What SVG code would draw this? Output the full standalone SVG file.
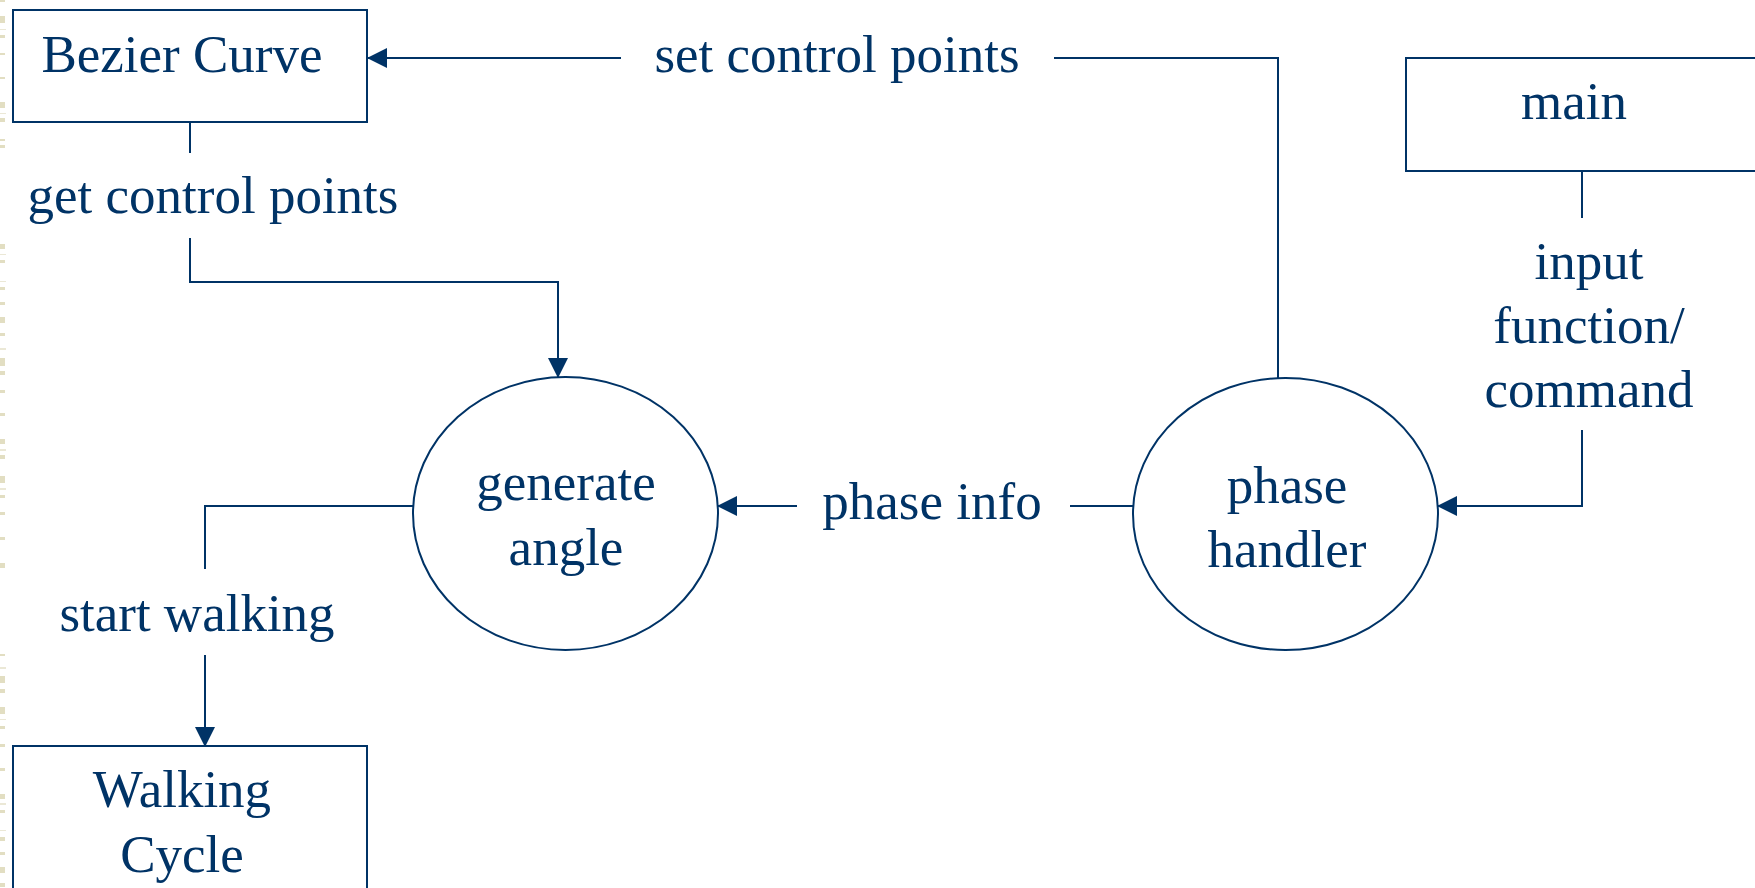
<svg xmlns="http://www.w3.org/2000/svg" width="1755" height="888" viewBox="0 0 1755 888">
  <style>
    .shape { fill: #ffffff; stroke: #003366; stroke-width: 2; }
    .wire { fill: none; stroke: #003366; stroke-width: 2; }
    .label { font-family: "Liberation Serif", "Times New Roman", serif; font-size: 53px; fill: #003366; text-anchor: middle; }
    .tick { fill: #e2dec2; }
    .tick-thin { fill: #ebe8d6; }
  </style>
  <defs>
    <marker id="arrow" viewBox="0 0 20 20" refX="19" refY="10" markerWidth="20" markerHeight="20" markerUnits="userSpaceOnUse" orient="auto">
      <path d="M0,0 L20,10 L0,20 Z" fill="#003366"/>
    </marker>
  </defs>

  <rect x="0" y="0" width="1755" height="888" fill="#ffffff"/>

  <!-- decorative tick strip along the left margin -->
  <g id="margin-strip">
    <rect class="tick" x="0" y="0" width="5" height="2"/>
    <rect class="tick" x="0" y="16" width="5" height="7"/>
    <rect class="tick-thin" x="0" y="29" width="6" height="1"/>
    <rect class="tick" x="0" y="35" width="5" height="3"/>
    <rect class="tick" x="0" y="53" width="5" height="2"/>
    <rect class="tick" x="0" y="77" width="5" height="2"/>
    <rect class="tick" x="0" y="102" width="5" height="6"/>
    <rect class="tick-thin" x="0" y="113" width="6" height="1"/>
    <rect class="tick" x="0" y="118" width="5" height="4"/>
    <rect class="tick" x="0" y="139" width="5" height="2"/>
    <rect class="tick" x="0" y="145" width="5" height="3"/>
    <rect class="tick" x="0" y="244" width="5" height="5"/>
    <rect class="tick-thin" x="0" y="254" width="6" height="1"/>
    <rect class="tick" x="0" y="260" width="5" height="3"/>
    <rect class="tick-thin" x="0" y="281" width="6" height="1"/>
    <rect class="tick" x="0" y="287" width="5" height="3"/>
    <rect class="tick" x="0" y="302" width="5" height="3"/>
    <rect class="tick" x="0" y="317" width="5" height="6"/>
    <rect class="tick" x="0" y="333" width="5" height="3"/>
    <rect class="tick-thin" x="0" y="348" width="6" height="2"/>
    <rect class="tick" x="0" y="358" width="5" height="8"/>
    <rect class="tick" x="0" y="371" width="5" height="4"/>
    <rect class="tick" x="0" y="390" width="5" height="3"/>
    <rect class="tick" x="0" y="413" width="5" height="3"/>
    <rect class="tick" x="0" y="439" width="5" height="5"/>
    <rect class="tick-thin" x="0" y="449" width="6" height="2"/>
    <rect class="tick" x="0" y="455" width="5" height="4"/>
    <rect class="tick" x="0" y="476" width="5" height="7"/>
    <rect class="tick-thin" x="0" y="488" width="6" height="2"/>
    <rect class="tick" x="0" y="495" width="5" height="3"/>
    <rect class="tick" x="0" y="512" width="5" height="3"/>
    <rect class="tick" x="0" y="537" width="5" height="3"/>
    <rect class="tick" x="0" y="563" width="5" height="5"/>
    <rect class="tick" x="0" y="654" width="5" height="2"/>
    <rect class="tick-thin" x="0" y="667" width="6" height="2"/>
    <rect class="tick" x="0" y="676" width="5" height="7"/>
    <rect class="tick" x="0" y="689" width="5" height="4"/>
    <rect class="tick" x="0" y="707" width="5" height="7"/>
    <rect class="tick-thin" x="0" y="719" width="6" height="1"/>
    <rect class="tick" x="0" y="726" width="5" height="3"/>
    <rect class="tick" x="0" y="744" width="5" height="3"/>
    <rect class="tick" x="0" y="768" width="5" height="3"/>
    <rect class="tick" x="0" y="794" width="5" height="5"/>
    <rect class="tick-thin" x="0" y="803" width="6" height="2"/>
    <rect class="tick" x="0" y="810" width="5" height="3"/>
    <rect class="tick-thin" x="0" y="830" width="6" height="1"/>
    <rect class="tick" x="0" y="837" width="5" height="4"/>
    <rect class="tick" x="0" y="852" width="5" height="3"/>
    <rect class="tick" x="0" y="867" width="5" height="6"/>
    <rect class="tick" x="0" y="883" width="5" height="4"/>
  </g>

  <!-- connectors -->
  <g id="connectors">
    <!-- phase handler -> Bezier Curve : set control points -->
    <path class="wire" d="M1278,378 L1278,58 L1054,58"/>
    <path class="wire" d="M621,58 L368,58" marker-end="url(#arrow)"/>
    <text class="label" x="837" y="72">set control points</text>

    <!-- Bezier Curve -> generate angle : get control points -->
    <path class="wire" d="M190,122 L190,153"/>
    <path class="wire" d="M190,238 L190,282 L558,282 L558,377" marker-end="url(#arrow)"/>
    <text class="label" x="213" y="213">get control points</text>

    <!-- main -> phase handler : input function/command -->
    <path class="wire" d="M1582,171 L1582,218"/>
    <path class="wire" d="M1582,430 L1582,506 L1438,506" marker-end="url(#arrow)"/>
    <text class="label" x="1589" y="279">input</text>
    <text class="label" x="1589" y="343">function/</text>
    <text class="label" x="1589" y="407">command</text>

    <!-- phase handler -> generate angle : phase info -->
    <path class="wire" d="M1133,506 L1070,506"/>
    <path class="wire" d="M797,506 L718,506" marker-end="url(#arrow)"/>
    <text class="label" x="932" y="519">phase info</text>

    <!-- generate angle -> Walking Cycle : start walking -->
    <path class="wire" d="M413,506 L205,506 L205,569"/>
    <path class="wire" d="M205,655 L205,746" marker-end="url(#arrow)"/>
    <text class="label" x="197" y="631">start walking</text>
  </g>

  <!-- nodes -->
  <g id="bezier-curve">
    <rect class="shape" x="13" y="10" width="354" height="112"/>
    <text class="label" x="182" y="72">Bezier Curve</text>
  </g>

  <g id="main">
    <rect class="shape" x="1406" y="58" width="360" height="113"/>
    <text class="label" x="1574" y="119">main</text>
  </g>

  <g id="generate-angle">
    <ellipse class="shape" cx="565.5" cy="513.5" rx="152.5" ry="136.5"/>
    <text class="label" x="566" y="500">generate</text>
    <text class="label" x="566" y="565">angle</text>
  </g>

  <g id="phase-handler">
    <ellipse class="shape" cx="1285.5" cy="514" rx="152.5" ry="136"/>
    <text class="label" x="1287" y="503">phase</text>
    <text class="label" x="1287" y="567">handler</text>
  </g>

  <g id="walking-cycle">
    <rect class="shape" x="13" y="746" width="354" height="160"/>
    <text class="label" x="182" y="807">Walking</text>
    <text class="label" x="182" y="872">Cycle</text>
  </g>
</svg>
